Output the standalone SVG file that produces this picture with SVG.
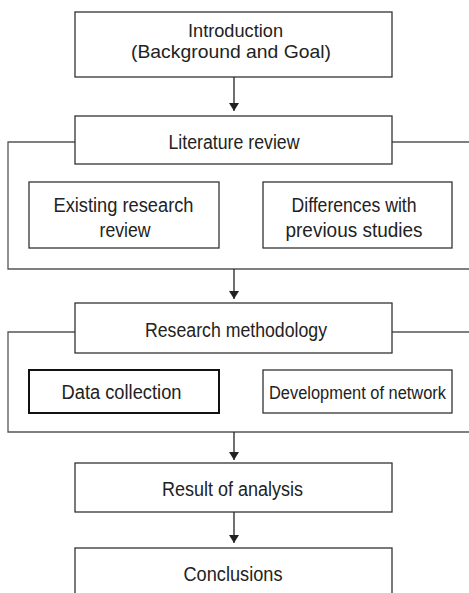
<svg xmlns="http://www.w3.org/2000/svg" width="469" height="593" viewBox="0 0 469 593">
<style>
.box{fill:#fff;stroke:#333;stroke-width:1.3}
.thick{fill:#fff;stroke:#111;stroke-width:2}
.br{fill:none;stroke:#555;stroke-width:1.3}
.cn{fill:none;stroke:#222;stroke-width:1.3}
text{font-family:"Liberation Sans",Arial,sans-serif;font-size:20px;fill:#222;text-anchor:middle}
.s{font-size:19px}
.n{font-size:17.5px}
</style>
<defs>
<marker id="ah" viewBox="0 0 8 10" refX="8" refY="5" markerWidth="8" markerHeight="10" markerUnits="userSpaceOnUse" orient="auto">
<path d="M0,0 L8,5 L0,10 Z" fill="#222"/>
</marker>
</defs>
<g id="connectors">
<path class="br" d="M75,142 H8 V269 H469 M392,142 H469"/>
<path class="br" d="M75,332 H8 V432 H469 M392,332 H469"/>
<line class="cn" x1="234" y1="77" x2="234" y2="111" marker-end="url(#ah)"/>
<line class="cn" x1="234" y1="269" x2="234" y2="299" marker-end="url(#ah)"/>
<line class="cn" x1="234" y1="432" x2="234" y2="460" marker-end="url(#ah)"/>
<line class="cn" x1="234" y1="512" x2="234" y2="543" marker-end="url(#ah)"/>
</g>
<g id="intro">
<rect class="box" x="75" y="12" width="317" height="65"/>
<text class="s" x="235.5" y="37" textLength="95" lengthAdjust="spacingAndGlyphs">Introduction</text>
<text class="s" x="231" y="58" textLength="200" lengthAdjust="spacingAndGlyphs">(Background and Goal)</text>
</g>
<g id="literature">
<rect class="box" x="75" y="116" width="317" height="48"/>
<text x="234" y="149" textLength="131" lengthAdjust="spacingAndGlyphs">Literature review</text>
</g>
<g id="existing">
<rect class="box" x="29" y="182" width="190" height="66"/>
<text x="123.5" y="212" textLength="140" lengthAdjust="spacingAndGlyphs">Existing research</text>
<text x="125" y="237" textLength="51" lengthAdjust="spacingAndGlyphs">review</text>
</g>
<g id="differences">
<rect class="box" x="263" y="182" width="189" height="66"/>
<text x="354" y="212" textLength="125" lengthAdjust="spacingAndGlyphs">Differences with</text>
<text x="354" y="237" textLength="137" lengthAdjust="spacingAndGlyphs">previous studies</text>
</g>
<g id="methodology">
<rect class="box" x="75" y="303" width="317" height="50"/>
<text x="236" y="337" textLength="182" lengthAdjust="spacingAndGlyphs">Research methodology</text>
</g>
<g id="data">
<rect class="thick" x="29" y="370" width="190" height="43"/>
<text x="121.5" y="399" textLength="120" lengthAdjust="spacingAndGlyphs">Data collection</text>
</g>
<g id="network">
<rect class="box" x="263" y="370" width="189" height="43"/>
<text class="n" x="357.5" y="398.5" textLength="177" lengthAdjust="spacingAndGlyphs">Development of network</text>
</g>
<g id="result">
<rect class="box" x="75" y="463" width="317" height="49"/>
<text x="232.5" y="496" textLength="141" lengthAdjust="spacingAndGlyphs">Result of analysis</text>
</g>
<g id="conclusions">
<rect class="box" x="75" y="548" width="317" height="60"/>
<text x="233" y="581" textLength="99" lengthAdjust="spacingAndGlyphs">Conclusions</text>
</g>
</svg>
